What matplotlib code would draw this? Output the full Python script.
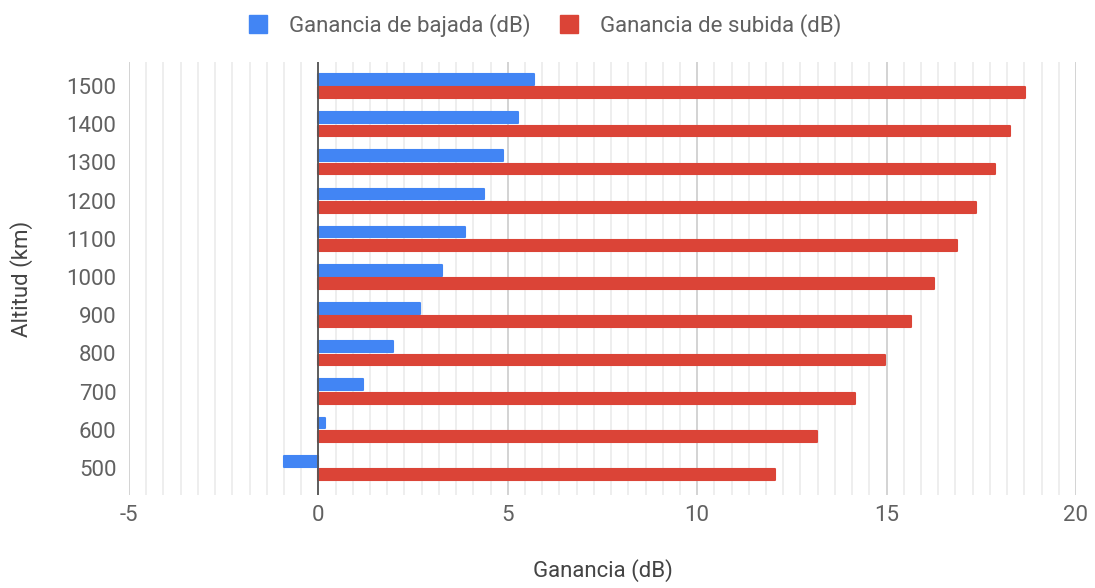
import numpy as np
import matplotlib.pyplot as plt
from matplotlib.lines import Line2D
from matplotlib.ticker import MultipleLocator

# datos
altitudes = [500, 600, 700, 800, 900, 1000, 1100, 1200, 1300, 1400, 1500]
bajada = [-0.9, 0.17, 1.17, 1.97, 2.67, 3.27, 3.87, 4.38, 4.88, 5.28, 5.68]
subida = [12.06, 13.17, 14.17, 14.96, 15.65, 16.25, 16.87, 17.37, 17.86, 18.26, 18.65]

azul = '#4285F4'
rojo = '#DB4437'
gris = '#616161'

plt.rcParams['font.family'] = ['Roboto', 'DejaVu Sans']

fig = plt.figure(figsize=(10.95, 5.88), dpi=100)
ax = fig.add_axes([0.1178, 0.1582, 0.8648, 0.7364])

y = np.arange(len(altitudes))
h = 0.28
ax.barh(y + 0.175, bajada, height=h, color=azul, edgecolor=azul, linewidth=1.5,
        joinstyle='round', zorder=3)
ax.barh(y - 0.175, subida, height=h, color=rojo, edgecolor=rojo, linewidth=1.5,
        joinstyle='round', zorder=3)

ax.set_xlim(-5, 20)
ax.set_ylim(-0.71, 10.63)
ax.set_yticks(y)
ax.set_yticklabels([str(a) for a in altitudes])
ax.set_xticks([-5, 0, 5, 10, 15, 20])
ax.set_xticklabels(['-5', '0', '5', '10', '15', '20'])
ax.xaxis.set_minor_locator(MultipleLocator(5 / 11))
ax.grid(axis='x', which='major', color='#cccccc', linewidth=1.2, zorder=0)
ax.grid(axis='x', which='minor', color='#ebebeb', linewidth=1.2, zorder=0)
ax.axvline(0, color='#555555', linewidth=1.3, zorder=4)
for s in ax.spines.values():
    s.set_visible(False)
ax.tick_params(axis='both', which='both', length=0, labelsize=16, labelcolor=gris)
ax.tick_params(axis='x', pad=7)
ax.tick_params(axis='y', pad=9)

ax.set_xlabel('Ganancia (dB)', fontsize=16, color='#444444', labelpad=24)
ax.set_ylabel('Altitud (km)', fontsize=16, color='#444444', labelpad=24)

handles = [Line2D([], [], marker='s', linestyle='', markersize=13, color=azul),
           Line2D([], [], marker='s', linestyle='', markersize=13, color=rojo)]
fig.legend(handles, ['Ganancia de bajada (dB)', 'Ganancia de subida (dB)'],
           loc='center', bbox_to_anchor=(0.497, 0.957), ncol=2, frameon=False,
           fontsize=16, labelcolor=gris, handlelength=1, handletextpad=0.9,
           columnspacing=1.2)

fig.savefig('out.png', dpi=100)
